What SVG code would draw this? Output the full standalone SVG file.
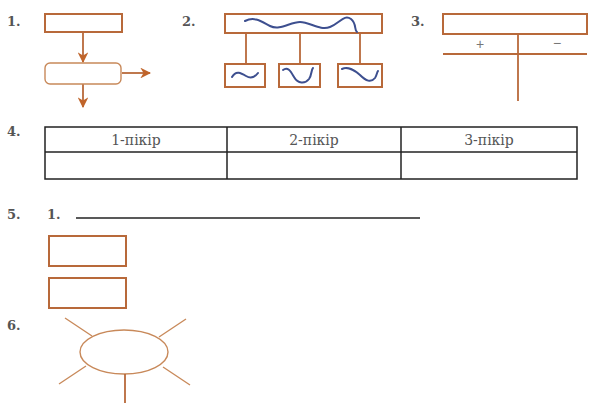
<svg xmlns="http://www.w3.org/2000/svg" width="597" height="403" viewBox="0 0 597 403">
<style>
.num{font-family:"DejaVu Serif","Liberation Serif",serif;font-weight:bold;font-size:13px;fill:#555}
.box{fill:#fff;stroke:#b8693a;stroke-width:2}
.ln{fill:none;stroke:#b8693a;stroke-width:1.8}
.thin{fill:none;stroke:#c8895a;stroke-width:1.4}
.wave{fill:none;stroke:#3d4f8f;stroke-width:2;stroke-linecap:round}
.tbl{fill:none;stroke:#222;stroke-width:1.5}
.th{font-family:"DejaVu Serif","Liberation Serif",serif;font-size:14px;fill:#555;text-anchor:middle}
.sign{font-family:"Liberation Sans",sans-serif;font-size:14px;fill:#777;text-anchor:middle}
</style>
<defs>
<marker id="ah" viewBox="0 0 10 10" refX="9" refY="5" markerWidth="6" markerHeight="6" orient="auto">
<path d="M0,0 L10,5 L0,10 L3,5 Z" fill="#c0642a"/>
</marker>
</defs>
<rect width="597" height="403" fill="#fff"/>
<text class="num" x="7" y="26">1.</text>
<text class="num" x="182" y="26">2.</text>
<text class="num" x="411" y="26">3.</text>
<text class="num" x="7" y="136">4.</text>
<text class="num" x="7" y="219">5.</text>
<text class="num" x="47" y="219">1.</text>
<text class="num" x="7" y="330">6.</text>
<g id="connectors">
<line class="ln" x1="83" y1="32" x2="83" y2="62" marker-end="url(#ah)"/>
<line class="ln" x1="122" y1="73" x2="150" y2="73" marker-end="url(#ah)"/>
<line class="ln" x1="83" y1="84" x2="83" y2="107" marker-end="url(#ah)"/>
<line class="ln" x1="246" y1="33" x2="246" y2="64"/>
<line class="ln" x1="300" y1="33" x2="300" y2="64"/>
<line class="ln" x1="360" y1="33" x2="360" y2="64"/>
</g>
<g id="n1a"><rect class="box" x="45" y="14" width="77" height="18"/></g>
<g id="n1b"><rect class="thin" x="45" y="63" width="76" height="21" rx="5" fill="#fff"/></g>
<g id="n2top"><rect class="box" x="225" y="14" width="157" height="19"/>
<path class="wave" d="M245,21 C255,16 262,22 270,26 C280,31 290,22 300,22 C310,22 320,31 330,27 C340,23 344,14 351,19 C357,24 354,30 357,32"/></g>
<g id="n2a"><rect class="box" x="225" y="64" width="40" height="23"/>
<path class="wave" d="M232,77 C236,70 241,73 246,76 C251,79 255,77 258,73"/></g>
<g id="n2b"><rect class="box" x="279" y="64" width="41" height="23"/>
<path class="wave" d="M283,70 C288,66 291,72 294,77 C298,84 305,84 309,79 C312,75 311,70 313,68"/></g>
<g id="n2c"><rect class="box" x="338" y="64" width="44" height="23"/>
<path class="wave" d="M342,69 C348,66 354,70 360,75 C366,81 371,83 375,78 C377,75 377,72 378,71"/></g>
<g id="n3">
<rect class="box" x="443" y="14" width="144" height="20"/>
<line class="ln" x1="443" y1="54" x2="587" y2="54"/>
<line class="ln" x1="518" y1="34" x2="518" y2="101"/>
<text class="sign" x="480" y="49">+</text>
<text class="sign" x="557" y="48">−</text>
</g>
<g id="n4">
<rect class="tbl" x="45" y="127" width="532" height="52"/>
<line class="tbl" x1="45" y1="152" x2="577" y2="152"/>
<line class="tbl" x1="227" y1="127" x2="227" y2="179"/>
<line class="tbl" x1="401" y1="127" x2="401" y2="179"/>
<text class="th" x="136" y="145">1-пікір</text>
<text class="th" x="314" y="145">2-пікір</text>
<text class="th" x="489" y="145">3-пікір</text>
</g>
<g id="n5">
<line x1="76" y1="218" x2="420" y2="218" stroke="#222" stroke-width="1.5"/>
<rect class="box" x="49" y="236" width="77" height="30"/>
<rect class="box" x="49" y="278" width="77" height="30"/>
</g>
<g id="n6">
<ellipse class="thin" cx="124" cy="352" rx="44" ry="22" fill="#fff"/>
<line class="thin" x1="65" y1="318" x2="92" y2="336"/>
<line class="thin" x1="186" y1="319" x2="159" y2="337"/>
<line class="thin" x1="59" y1="384" x2="86" y2="366"/>
<line class="thin" x1="190" y1="385" x2="163" y2="367"/>
<line class="ln" x1="125" y1="374" x2="125" y2="403"/>
</g>
</svg>
